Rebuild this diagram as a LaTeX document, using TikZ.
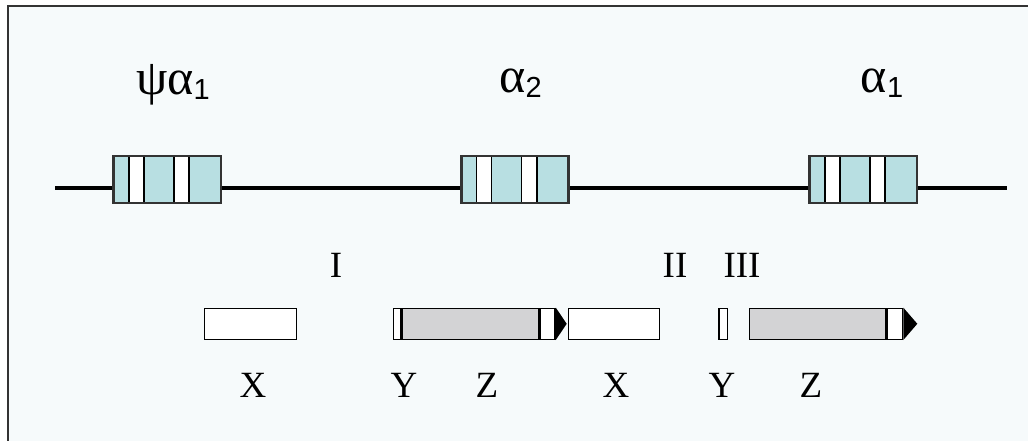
\documentclass[tikz,border=0pt]{standalone}
\usepackage{fontspec}
\setmainfont{Liberation Serif}
\newfontfamily\grkfont{Liberation Serif}
\newfontfamily\subfont{Liberation Sans}
\definecolor{panelbg}{HTML}{F6FAFB}
\definecolor{exonteal}{HTML}{B8DFE2}
\definecolor{boxgray}{HTML}{D3D3D5}
\definecolor{framegray}{HTML}{333333}
\newcommand{\genelabel}[2]{{\grkfont\fontsize{50}{50}\selectfont #1}{\subfont\fontsize{29}{29}\selectfont\raisebox{-5pt}{#2}}}
\tikzset{
  x=1pt, y=-1pt,
  gene/.style={draw=black!80, line width=1.6pt, fill=exonteal, inner sep=0pt,
    minimum width=106.5pt, minimum height=45.6pt},
  seg/.style={draw=black, line width=1.5pt, inner sep=0pt, minimum height=31pt},
  openseg/.style={seg, fill=white},
  greyseg/.style={seg, fill=boxgray},
  romanlbl/.style={anchor=base, inner sep=0pt, font=\fontsize{37}{37}\selectfont},
  greeklbl/.style={anchor=base, inner sep=0pt},
  chrom/.style={line width=4pt, black},
  tipfill/.style={fill=black}
}
\begin{document}
\begin{tikzpicture}
\useasboundingbox (0,0) rectangle (1028,441);
\clip (0,0) rectangle (1028,441);
\fill[white] (0,0) rectangle (1028,441);
\draw[framegray, line width=2pt, fill=panelbg] (8,6) rectangle (1060,470);

% chromosome line with the three genes
\coordinate (lstart) at (55,187.5);
\coordinate (lend) at (1007,187.5);
\node[gene] (g1) at (167.3,179.5) {};
\node[gene] (g2) at (515.0,179.5) {};
\node[gene] (g3) at (863.3,179.5) {};
\draw[chrom] (lstart) -- (g1.west |- lstart);
\draw[chrom] (g1.east |- lstart) -- (g2.west |- lstart);
\draw[chrom] (g2.east |- lstart) -- (g3.west |- lstart);
\draw[chrom] (g3.east |- lstart) -- (lend);
\foreach \g in {g1,g2,g3}{
  \draw[line width=1.6pt, fill=white] ([xshift=15.5pt]\g.south west) rectangle ([xshift=30.5pt]\g.north west);
  \draw[line width=1.6pt, fill=white] ([xshift=60.5pt]\g.south west) rectangle ([xshift=76pt]\g.north west);
  \draw[black!80, line width=1.6pt] (\g.south west) rectangle (\g.north east);
}

% gene names
\node[greeklbl] (n1) at (173,95) {\genelabel{ψα}{1}};
\node[greeklbl] (n2) at (520.5,93) {\genelabel{α}{2}};
\node[greeklbl] (n3) at (882,93) {\genelabel{α}{1}};

% homology blocks
\node[openseg, minimum width=92pt] (x1) at (250.7,323.8) {};
\node[openseg, minimum width=7.7pt] (y1) at (397.15,323.8) {};
\node[greyseg, minimum width=136.7pt, anchor=west] (z1) at (y1.east) {};
\node[openseg, minimum width=14.3pt, anchor=west] (z1e) at (z1.east) {};
\coordinate (t1) at (566.7,323.8);
\fill[tipfill] (z1e.north east) -- (t1) -- (z1e.south east) -- cycle;

\node[openseg, minimum width=91pt] (x2) at (613.8,323.8) {};
\node[openseg, minimum width=8.7pt] (y2) at (723.35,323.8) {};
\node[greyseg, minimum width=136.4pt] (z2) at (817.5,323.8) {};
\node[openseg, minimum width=15.3pt, anchor=west] (z2e) at (z2.east) {};
\coordinate (t2) at (917.3,323.8);
\fill[tipfill] (z2e.north east) -- (t2) -- (z2e.south east) -- cycle;

% box labels
\node[romanlbl] (r1) at (336,277) {I};
\node[romanlbl] (r2) at (675,277) {II};
\node[romanlbl] (r3) at (742,277) {III};
\node[romanlbl] (bx1) at (253,397.5) {X};
\node[romanlbl] (by1) at (404,397.5) {Y};
\node[romanlbl] (bz1) at (487,397.5) {Z};
\node[romanlbl] (bx2) at (616,397.5) {X};
\node[romanlbl] (by2) at (722,397.5) {Y};
\node[romanlbl] (bz2) at (811,397.5) {Z};
\end{tikzpicture}
\end{document}
